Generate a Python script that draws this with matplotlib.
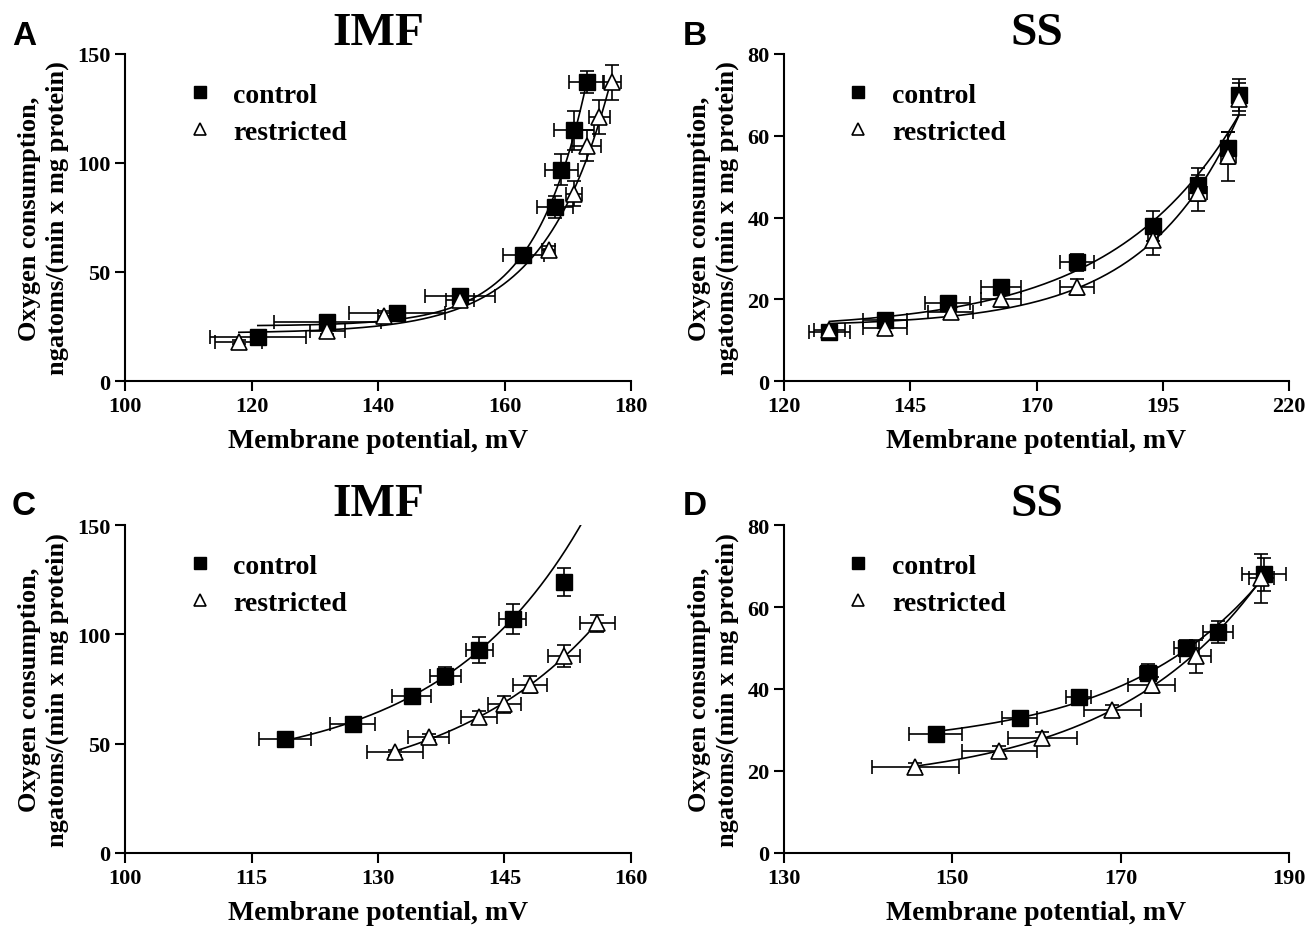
import matplotlib
matplotlib.use("Agg")
import matplotlib.pyplot as plt
import numpy as np

plt.rcParams['font.family'] = ['Liberation Serif', 'DejaVu Serif']
plt.rcParams['font.weight'] = 'bold'

# ---- data ----
# panel A, IMF
a_ctrl_x = [121, 132, 143, 153, 163, 168, 169, 171, 173]
a_ctrl_y = [20, 27, 31, 39, 58, 80, 97, 115, 137]
a_ctrl_xerr = [7.6, 8.5, 7.6, 5.5, 3.3, 2.8, 2.6, 3.1, 2.8]
a_ctrl_yerr = [2, 2, 2, 2, 3, 5, 7, 9, 5]
a_rest_x = [118, 132, 141, 153, 167, 171, 173, 175, 177]
a_rest_y = [18, 23, 30, 37, 60, 86, 108, 121, 137]
a_rest_xerr = [3.7, 2.8, 1.0, 2.2, 1.0, 1.3, 2.3, 1.7, 1.4]
a_rest_yerr = [1, 1.5, 2, 2, 2, 5.8, 7, 7.7, 8]

# panel B, SS
b_ctrl_x = [129, 140, 152.4, 163, 178, 193, 202, 208, 210]
b_ctrl_y = [12, 15, 19, 23, 29, 38, 48, 57, 70]
b_ctrl_xerr = [4.1, 4.4, 4.5, 3.9, 3.3, 1.0, 1.5, 1.5, 0.8]
b_ctrl_yerr = [1, 1, 1, 1.5, 2, 3.7, 4, 4, 4]
b_rest_x = [129, 140, 153, 163, 178, 193, 202, 208, 210]
b_rest_y = [12.5, 13, 17, 20, 23, 34.5, 46, 55, 69]
b_rest_xerr = [3.0, 4.4, 4.5, 3.9, 3.3, 1.0, 1.8, 1.5, 0.8]
b_rest_yerr = [1, 1, 1, 2, 2, 3.7, 4.5, 6, 4]

# panel C, IMF
c_ctrl_x = [119, 127, 134, 138, 142, 146, 152]
c_ctrl_y = [52, 59, 72, 81, 93, 107, 124]
c_ctrl_xerr = [3.1, 2.7, 2.3, 1.8, 1.6, 1.6, 0.5]
c_ctrl_yerr = [1, 1.5, 2, 4, 6, 7, 6.5]
c_rest_x = [132, 136, 142, 145, 148, 152, 156]
c_rest_y = [46, 53, 62, 68, 77, 90, 105]
c_rest_xerr = [3.3, 2.4, 2.1, 1.9, 2.0, 1.9, 2.1]
c_rest_yerr = [1, 1.5, 3, 4, 4, 5, 4]

# panel D, SS
d_ctrl_x = [148, 158, 165, 173.3, 177.8, 181.6, 187]
d_ctrl_y = [29, 33, 38, 44, 50, 54, 68]
d_ctrl_xerr = [3.1, 2.1, 1.5, 1.0, 1.5, 1.8, 2.6]
d_ctrl_yerr = [1, 1, 1, 2, 2, 2.7, 4]
d_rest_x = [145.6, 155.6, 160.7, 169, 173.7, 178.9, 186.7]
d_rest_y = [21, 25, 28, 35, 41, 48, 67]
d_rest_xerr = [5.2, 4.5, 4.1, 3.4, 2.8, 1.8, 1.5]
d_rest_yerr = [1, 1, 1.5, 1, 2, 4, 6]


def fit_exp(x, y):
    # y = c + a*exp(k*x), grid over k, linear lstsq for c and a
    x = np.asarray(x, float)
    y = np.asarray(y, float)
    best = None
    for k in np.linspace(0.005, 0.6, 2000):
        e = np.exp(k * (x - x.max()))
        A = np.column_stack([np.ones_like(x), e])
        coef, *_ = np.linalg.lstsq(A, y, rcond=None)
        if coef[1] <= 0:
            continue
        r = np.sum((A @ coef - y) ** 2)
        if best is None or r < best[0]:
            best = (r, k, coef)
    _, k, (c, a) = best
    x0 = x.max()
    return lambda t: c + a * np.exp(k * (np.asarray(t) - x0))


def panel(ax, title, series, xlim, xticks, ylim, yticks):
    for s in series:
        x, y, xe, ye, xfit, nfit = s
        f = fit_exp(x[:nfit], y[:nfit])
        t = np.linspace(xfit[0], xfit[1], 300)
        ax.plot(t, f(t), color='black', lw=1.2, zorder=2)
        ax.errorbar(x, y, xerr=xe, yerr=ye, fmt='none', ecolor='black',
                    elinewidth=1.2, capsize=5, capthick=1.2, zorder=3)
    h1 = ax.plot(series[0][0], series[0][1], linestyle='none', marker='s',
                 ms=11, mfc='black', mec='black', zorder=4, label='control')[0]
    h2 = ax.plot(series[1][0], series[1][1], linestyle='none', marker='^',
                 ms=11, mfc='white', mec='black', mew=1.2, zorder=5,
                 label='restricted')[0]
    ax.legend(handles=[h1, h2], loc='upper left', bbox_to_anchor=(0.065, 0.99),
              frameon=False, prop={'size': 20, 'weight': 'bold'},
              handletextpad=0.6, labelspacing=0.42,
              markerscale=0.8, handlelength=1.2)
    ax.set_xlim(*xlim)
    ax.set_ylim(*ylim)
    ax.set_xticks(xticks)
    ax.set_yticks(yticks)
    ax.spines['top'].set_visible(False)
    ax.spines['right'].set_visible(False)
    ax.spines['left'].set_linewidth(1.5)
    ax.spines['bottom'].set_linewidth(1.5)
    ax.tick_params(direction='out', length=7, width=1.5, labelsize=16)
    ax.set_title(title, fontsize=34, fontweight='bold', pad=4)
    ax.set_xlabel('Membrane potential, mV', fontsize=20, fontweight='bold',
                  labelpad=9)
    ax.set_ylabel('Oxygen consumption,\nngatoms/(min x mg protein)',
                  fontsize=19, fontweight='bold', labelpad=6, linespacing=1.25)


fig = plt.figure(figsize=(13.06, 9.28), dpi=100)
W, H = 1306, 928
axA = fig.add_axes([125 / W, 1 - 382 / H, 506 / W, 327 / H])
axB = fig.add_axes([784 / W, 1 - 382 / H, 505 / W, 327 / H])
axC = fig.add_axes([125 / W, 1 - 854 / H, 506 / W, 328 / H])
axD = fig.add_axes([784 / W, 1 - 854 / H, 505 / W, 328 / H])

panel(axA, 'IMF',
      [(a_ctrl_x, a_ctrl_y, a_ctrl_xerr, a_ctrl_yerr, (a_ctrl_x[0], a_ctrl_x[-1]), 9),
       (a_rest_x, a_rest_y, a_rest_xerr, a_rest_yerr, (a_rest_x[0], a_rest_x[-1]), 9)],
      (100, 180), [100, 120, 140, 160, 180], (0, 150), [0, 50, 100, 150])
panel(axB, 'SS',
      [(b_ctrl_x, b_ctrl_y, b_ctrl_xerr, b_ctrl_yerr, (b_ctrl_x[0], b_ctrl_x[-1]), 9),
       (b_rest_x, b_rest_y, b_rest_xerr, b_rest_yerr, (b_rest_x[0], b_rest_x[-1]), 9)],
      (120, 220), [120, 145, 170, 195, 220], (0, 80), [0, 20, 40, 60, 80])
panel(axC, 'IMF',
      [(c_ctrl_x, c_ctrl_y, c_ctrl_xerr, c_ctrl_yerr, (c_ctrl_x[0], 156), 6),
       (c_rest_x, c_rest_y, c_rest_xerr, c_rest_yerr, (c_rest_x[0], c_rest_x[-1]), 7)],
      (100, 160), [100, 115, 130, 145, 160], (0, 150), [0, 50, 100, 150])
panel(axD, 'SS',
      [(d_ctrl_x, d_ctrl_y, d_ctrl_xerr, d_ctrl_yerr, (d_ctrl_x[0], d_ctrl_x[-1]), 7),
       (d_rest_x, d_rest_y, d_rest_xerr, d_rest_yerr, (d_rest_x[0], d_rest_x[-1]), 7)],
      (130, 190), [130, 150, 170, 190], (0, 80), [0, 20, 40, 60, 80])

for lab, px, py in [('A', 12, 45), ('B', 683, 45), ('C', 12, 515), ('D', 683, 515)]:
    fig.text(px / W, 1 - py / H, lab, fontsize=24, fontweight='bold',
             family=['Liberation Sans', 'DejaVu Sans'], va='baseline')

fig.savefig('out.png', dpi=100)
